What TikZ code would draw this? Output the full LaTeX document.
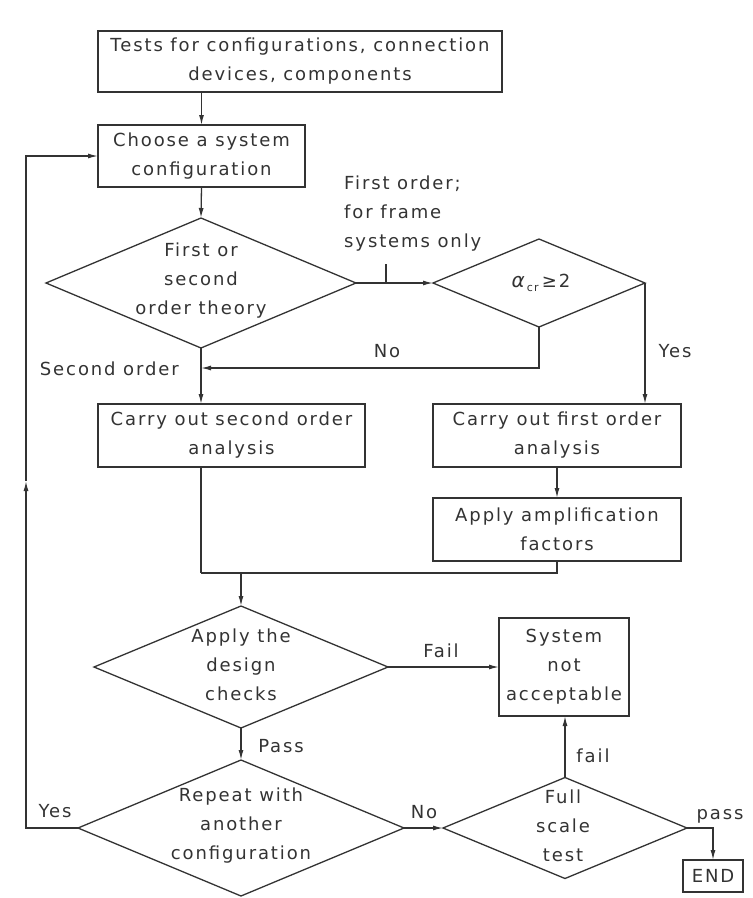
\documentclass[tikz,border=0pt]{standalone}
\usepackage{fontspec}
\setmainfont{DejaVu Sans}[LetterSpace=10.5]
\usetikzlibrary{shapes.geometric,arrows.meta}
\definecolor{ink}{HTML}{333333}
\begin{document}
\begin{tikzpicture}[x=1pt,y=-1pt,
  every node/.style={font=\fontsize{18}{29}\selectfont, text=ink},
  box/.style={draw=ink, line width=1.3pt, rectangle, inner sep=0pt, outer sep=0pt, align=center},
  dia/.style={draw=ink, line width=1.3pt, diamond, inner sep=0pt, outer sep=0pt},
  txt/.style={align=center, inner sep=0pt},
  lbl/.style={inner sep=0pt, anchor=base},
  conn/.style={draw=ink, line width=1.3pt},
  arr/.style={conn, -{Latex[length=10pt,width=5pt]}}]
\useasboundingbox[fill=white] (0,0) rectangle (753,898);

% boxes
\node[box, minimum width=404pt, minimum height=61pt] (b1) at (300,61.5) {Tests for configurations, connection\\devices, components};
\node[box, minimum width=207pt, minimum height=62pt] (b2) at (201.5,156) {Choose a system\\configuration};
\node[box, minimum width=267pt, minimum height=63pt] (b3) at (231.5,435.5) {Carry out second order\\analysis};
\node[box, minimum width=248pt, minimum height=63pt] (b4) at (557,435.5) {Carry out first order\\analysis};
\node[box, minimum width=248pt, minimum height=63pt] (b5) at (557,529.5) {Apply amplification\\factors};
\node[box, minimum width=130pt, minimum height=98pt] (b6) at (564,667) {System\\not\\acceptable};
\node[box, minimum width=60pt, minimum height=32pt] (end) at (713,876) {END};

% diamonds
\node[dia, minimum width=310pt, minimum height=130pt] (d1) at (201,283) {};
\node[txt] (t1) at (201,281) {First or\\second\\order theory};
\node[dia, minimum width=212pt, minimum height=88pt] (d2) at (539,283) {};
\node[txt] (t2) at (541,283) {\fontsize{20}{20}\selectfont\textit{α}\raisebox{-0.35ex}{\fontsize{11}{11}\selectfont cr}\,{\fontsize{18}{18}\selectfont ≥2}};
\node[dia, minimum width=294pt, minimum height=122pt] (d3) at (241,667) {};
\node[txt] (t3) at (241,665) {Apply the\\design\\checks};
\node[dia, minimum width=326pt, minimum height=136pt] (d4) at (241,828) {};
\node[txt] (t4) at (241,826) {Repeat with\\another\\configuration};
\node[dia, minimum width=244pt, minimum height=101pt] (d5) at (565,828) {};
\node[txt] (t5) at (563,826) {Full\\scale\\test};

% labels
\node[txt, align=left, anchor=west] (l1) at (344,214) {First order;\\for frame\\systems only};
\node[lbl, anchor=base east] (l2) at (179,375) {Second order};
\node[lbl] (l3) at (387,357) {No};
\node[lbl] (l4) at (675,357) {Yes};
\node[lbl] (l5) at (441,657) {Fail};
\node[lbl] (l6) at (281,752) {Pass};
\node[lbl] (l7) at (55,817) {Yes};
\node[lbl] (l8) at (424,818) {No};
\node[lbl] (l9) at (593,762) {fail};
\node[lbl] (l10) at (720,819) {pass};

% coordinates
\coordinate (tk) at (386,283);
\coordinate (j1) at (201,573);
\coordinate (lb) at (26,828);
\coordinate (lm) at (26,481);
\coordinate (lt) at (26,156);

% connectors
\draw[arr] (b2.north |- b1.south) -- (b2.north);
\draw[arr] (b2.south) -- (d1.north);
\draw[arr] (d1.east) -- (d2.west);
\draw[conn] (tk) -- ++(0,-19);
\draw[arr] (d2.south) |- (d1.south |- 0,368);
\draw[arr] (d1.south) -- (d1.south |- b3.north);
\draw[arr] (d2.east) -- (d2.east |- b4.north);
\draw[arr] (b4.south) -- (b5.north);
\draw[conn] (b5.south) |- (j1);
\draw[conn] (d1.south |- b3.south) -- (j1);
\draw[arr] (d3.north |- j1) -- (d3.north);
\draw[arr] (d3.east) -- (b6.west);
\draw[arr] (d3.south) -- (d4.north);
\draw[arr] (d4.east) -- (d5.west);
\draw[arr] (d5.north) -- (d5.north |- b6.south);
\draw[arr] (d5.east) -| (end.north);
\draw[arr] (d4.west) -- (lb) -- (lm);
\draw[arr] (lm) -- (lt) -- (b2.west);
\end{tikzpicture}
\end{document}
